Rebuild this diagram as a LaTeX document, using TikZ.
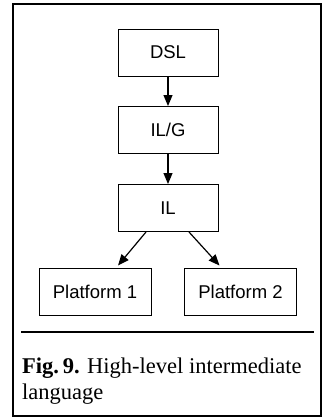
\documentclass[tikz,border=0pt]{standalone}
\usepackage{fontspec}
\setmainfont{Liberation Serif}
\setsansfont{Liberation Sans}
\usetikzlibrary{arrows.meta}

\begin{document}
\begin{tikzpicture}[x=1pt,y=1pt,
    stage/.style={draw=black,line width=1pt,minimum height=47pt,
      font=\sffamily\fontsize{18.5}{22}\selectfont},
    flow/.style={line width=1.2pt,-{Triangle[length=11pt,width=9pt]}},
    caption/.style={anchor=base west,inner sep=0pt,
      font=\rmfamily\fontsize{22.5}{26}\selectfont}]
    \useasboundingbox (0,0) rectangle (323,-418);
    \node[stage,minimum width=100pt] (dsl) at (168,-52.5) {DSL};
    \node[stage,minimum width=100pt] (ilg) at (168,-130) {IL/G};
    \node[stage,minimum width=100pt] (il) at (168,-208) {IL};
    \node[stage,minimum width=112pt] (pf1) at (95,-291.5) {Platform 1};
    \node[stage,minimum width=112pt] (pf2) at (240.5,-291.5) {Platform 2};
    \draw[flow] (dsl) -- (ilg);
    \draw[flow] (ilg) -- (il);
    \draw[flow] ([xshift=-22pt]il.south) -- ([xshift=23pt,yshift=2pt]pf1.north);
    \draw[flow] ([xshift=21pt]il.south) -- ([xshift=-21pt,yshift=2pt]pf2.north);
    \draw[line width=1.3pt] (21,-332) -- (314,-332);
    \node[caption] (cap1) at (22,-373) {\textbf{Fig.\,9.} High-level intermediate};
    \node[caption] (cap2) at (22,-399) {language};
    \draw[line width=2pt] (13,-3.5) rectangle (321,-415.5);
  \end{tikzpicture}
\end{document}
